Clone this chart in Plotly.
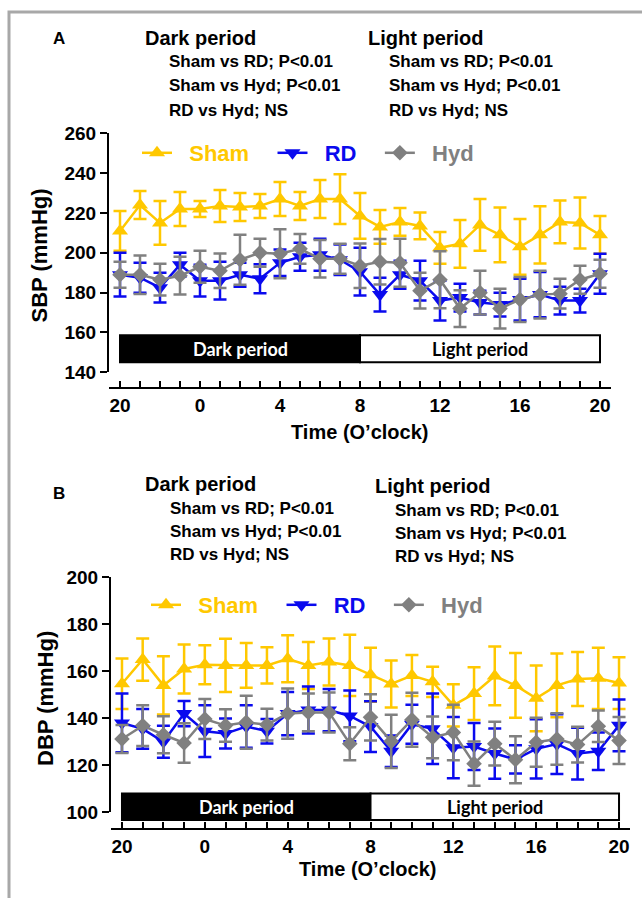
import plotly.graph_objects as go

# ---------------- data ----------------
hour_labels = ["20", "21", "22", "23", "0", "1", "2", "3", "4", "5", "6", "7", "8",
               "9", "10", "11", "12", "13", "14", "15", "16", "17", "18", "19", "20"]

sham_sbp = [211, 224, 215, 222, 222, 223.5, 223, 223.5, 227, 223.5, 227, 227, 218.5,
            213, 215.5, 213.5, 202.5, 204.5, 214, 209, 203, 209, 215.5, 215, 209]
sham_sbp_err = [10, 7, 11, 8.5, 4, 8, 7, 6, 8.5, 7, 9.5, 12.5, 11.5,
                8.5, 7, 6.7, 8, 12, 13, 13.7, 14, 14.4, 10.7, 12.8, 9.5]
rd_sbp = [189, 187.5, 182.5, 194, 186, 186, 189, 187, 195, 198, 199, 196.5, 190.5,
          179, 189, 186, 176, 177.5, 175, 174, 176.5, 179, 176, 176, 189.5]
rd_sbp_err = [11, 7.5, 7.5, 6, 8, 9.5, 6, 7.3, 6.7, 7, 8, 7.7, 12,
              8.5, 7, 10, 10, 7, 6, 6, 10.5, 11.4, 7, 6, 10]
hyd_sbp = [189, 189, 186.5, 188.5, 193, 191, 196.5, 200, 199.5, 202, 197, 197, 193.5,
           195.5, 195, 181, 186.5, 172, 180, 172, 176.5, 179, 179.5, 186.5, 189.5]
hyd_sbp_err = [6.5, 9.7, 8, 9.5, 8, 8.7, 12.5, 7, 12.3, 7.5, 9.4, 7.5, 11.2,
               11.4, 12, 9, 14.3, 9.2, 11, 10, 11.3, 12, 7.5, 7, 7]

sham_dbp = [154.7, 165, 154, 161, 162.8, 162.5, 162.5, 162.5, 165.3, 162.5, 164, 162.5, 158.5,
            154.6, 158.2, 155.5, 145.5, 150.5, 158, 154, 148.5, 154, 156.7, 157, 155]
sham_dbp_err = [10.7, 9, 12.4, 10.4, 8.3, 11.3, 9.5, 7.7, 10, 10, 10, 13, 11.5,
                10, 8.7, 6.4, 9, 11.2, 12.5, 13.8, 14, 13.6, 11.5, 13, 11]
rd_dbp = [138, 135.5, 130, 142, 134.5, 133.5, 136.5, 134.5, 142, 143.5, 143.5, 141, 136.5,
          126, 137.5, 135.5, 127.5, 128, 125, 122.5, 127, 129, 125, 126, 137]
rd_dbp_err = [12.5, 8.5, 6.8, 5.4, 11, 6.4, 9, 5.2, 9.2, 10, 9, 10.8, 10.8,
              6.7, 8.3, 15, 13, 10, 10.7, 6, 12.6, 12.7, 11, 8, 11]
hyd_dbp = [131.2, 136.9, 133, 129.5, 139.7, 136.9, 138.3, 137.3, 142, 142.5, 142.5, 129.2, 140.4,
           130.2, 139.4, 131.9, 134, 120.7, 129.2, 122.4, 129.8, 131.2, 128.8, 136.6, 130.5]
hyd_dbp_err = [6, 8.7, 7.9, 8.4, 8.5, 6.9, 11.3, 6.8, 10.7, 8, 8.5, 7, 9.8,
               11.3, 11.5, 8.9, 11.8, 9.4, 9.3, 10, 10.4, 11, 7.6, 6.7, 10]

stats_lines = ["Sham vs RD; P<0.01", "Sham vs Hyd; P<0.01", "RD vs Hyd; NS"]

# ---------------- styling ----------------
W, H = 642, 898
FONT = "'Liberation Sans', Arial, sans-serif"
BARFONT = "Lato, 'Open Sans', sans-serif"
C_SHAM = "#FFC800"
C_RD = "#0A0AEE"
C_HYD = "#808080"
NB = "\u00a0"


def fx(p):
    return p / W


def fy(p):
    return 1 - p / H


x_idx = list(range(len(hour_labels)))
tick_text = [h if (i % 4 == 0) else "" for i, h in enumerate(hour_labels)]

series = [
    ("Sham", C_SHAM, "triangle-up", 14),
    ("RD", C_RD, "triangle-down", 14),
    ("Hyd", C_HYD, "diamond", 12),
]
top_vals = [(sham_sbp, sham_sbp_err), (rd_sbp, rd_sbp_err), (hyd_sbp, hyd_sbp_err)]
bot_vals = [(sham_dbp, sham_dbp_err), (rd_dbp, rd_dbp_err), (hyd_dbp, hyd_dbp_err)]

fig = go.Figure()
for panel, vals in (("", top_vals), ("2", bot_vals)):
    for (name, col, sym, sz), (v, e) in zip(series, vals):
        fig.add_trace(go.Scatter(
            x=x_idx, y=v, mode="lines+markers", xaxis="x" + panel, yaxis="y" + panel,
            legend="legend" + panel,
            name=f"{NB}{NB}<span style='color:{col}'>{name}</span>{NB}{NB}{NB}",
            line=dict(color=col, width=2.5),
            marker=dict(symbol=sym, size=sz, color=col),
            error_y=dict(type="data", array=e, color=col, thickness=2.5, width=6.5),
        ))

tickfont = dict(family=FONT, size=19, color="black", weight="bold")
xcommon = dict(tickmode="array", tickvals=x_idx, ticktext=tick_text, ticks="inside",
               ticklen=6, tickwidth=2, tickcolor="black", showline=True, linewidth=2,
               linecolor="black", showgrid=False, zeroline=False, tickfont=tickfont,
               anchor="free", automargin=False, fixedrange=True)
ycommon = dict(ticks="outside", ticklen=7, tickwidth=2, tickcolor="black", showline=True,
               linewidth=2, linecolor="black", showgrid=False, zeroline=False,
               tickfont=tickfont, dtick=20, automargin=False, fixedrange=True)

legend_font = dict(family=FONT, size=22, weight="bold")

fig.update_layout(
    width=W, height=H, template="none",
    margin=dict(l=0, r=0, t=0, b=0, pad=0),
    paper_bgcolor="white", plot_bgcolor="white",
    xaxis=dict(domain=[fx(109), fx(611)], range=[-0.55, 24.55], position=fy(388), **xcommon),
    yaxis=dict(domain=[fy(372.3), fy(133.3)], range=[140, 260], anchor="x", tick0=140, **ycommon),
    xaxis2=dict(domain=[fx(111), fx(630)], range=[-0.53, 24.53], position=fy(829.3), **xcommon),
    yaxis2=dict(domain=[fy(812.3), fy(577.3)], range=[100, 200], anchor="x2", tick0=100, **ycommon),
    legend=dict(orientation="h", x=fx(137), y=fy(153), xanchor="left", yanchor="middle",
                font=legend_font, bgcolor="rgba(0,0,0,0)", borderwidth=0, itemclick=False),
    legend2=dict(orientation="h", x=fx(146), y=fy(605), xanchor="left", yanchor="middle",
                 font=legend_font, bgcolor="rgba(0,0,0,0)", borderwidth=0, itemclick=False),
    showlegend=True,
)

shapes = []
# outer grey frame
shapes.append(dict(type="path", xref="paper", yref="paper",
                   path=f"M {fx(9)},{fy(900)} L {fx(9)},{fy(12)} L {fx(645)},{fy(12)}",
                   line=dict(color="#A8A8A8", width=3)))
# period bars
shapes.append(dict(type="rect", xref="x", yref="y", x0=0, x1=12, y0=145, y1=158.6,
                   fillcolor="black", line=dict(color="black", width=2), layer="below"))
shapes.append(dict(type="rect", xref="x", yref="y", x0=12, x1=24, y0=145, y1=158.6,
                   fillcolor="white", line=dict(color="black", width=2), layer="below"))
shapes.append(dict(type="rect", xref="x2", yref="paper", x0=0, x1=12, y0=fy(820), y1=fy(793.5),
                   fillcolor="black", line=dict(color="black", width=2), layer="below"))
shapes.append(dict(type="rect", xref="x2", yref="paper", x0=12, x1=24, y0=fy(820), y1=fy(793.5),
                   fillcolor="white", line=dict(color="black", width=2), layer="below"))
fig.update_layout(shapes=shapes)

ann = []


def txt(x, y, s, size, xanchor="left", color="black", family=FONT, xref="paper", angle=0):
    ann.append(dict(x=x if xref != "paper" else fx(x), y=fy(y), xref=xref, yref="paper",
                    text=s, showarrow=False, xanchor=xanchor, yanchor="middle",
                    textangle=angle,
                    font=dict(family=family, size=size, color=color, weight="bold")))


# panel A header
txt(51, 38, "A", 17)
txt(143, 38, "Dark period", 20)
txt(366, 38, "Light period", 20)
for k, s in enumerate(stats_lines):
    txt(167, 62 + 24 * k, s, 17)
    txt(387, 62 + 24 * k, s, 17)
# panel B header
txt(51, 493, "B", 17)
txt(143, 484, "Dark period", 20)
txt(373, 486, "Light period", 20)
for k, s in enumerate(stats_lines):
    txt(168, 508 + 23.2 * k, s, 17)
    txt(393, 510 + 23.2 * k, s, 17)

# bar labels
txt(6, 348.5, "Dark period", 18, xanchor="center", color="white", family=BARFONT, xref="x")
txt(18, 348.5, "Light period", 18, xanchor="center", color="black", family=BARFONT, xref="x")
txt(6, 806.5, "Dark period", 18, xanchor="center", color="white", family=BARFONT, xref="x2")
txt(18, 806.5, "Light period", 18, xanchor="center", color="black", family=BARFONT, xref="x2")

# axis titles
txt(360, 432, "Time (O’clock)", 20, xanchor="center")
txt(368, 869, "Time (O’clock)", 20, xanchor="center")
ann.append(dict(x=fx(39), y=fy(255.5), xref="paper", yref="paper", text="SBP (mmHg)",
                showarrow=False, textangle=-90, xanchor="center", yanchor="middle",
                font=dict(family=FONT, size=22, color="black", weight="bold")))
ann.append(dict(x=fx(45), y=fy(698), xref="paper", yref="paper", text="DBP (mmHg)",
                showarrow=False, textangle=-90, xanchor="center", yanchor="middle",
                font=dict(family=FONT, size=22, color="black", weight="bold")))
fig.update_layout(annotations=ann)

fig.write_html("out.html")
